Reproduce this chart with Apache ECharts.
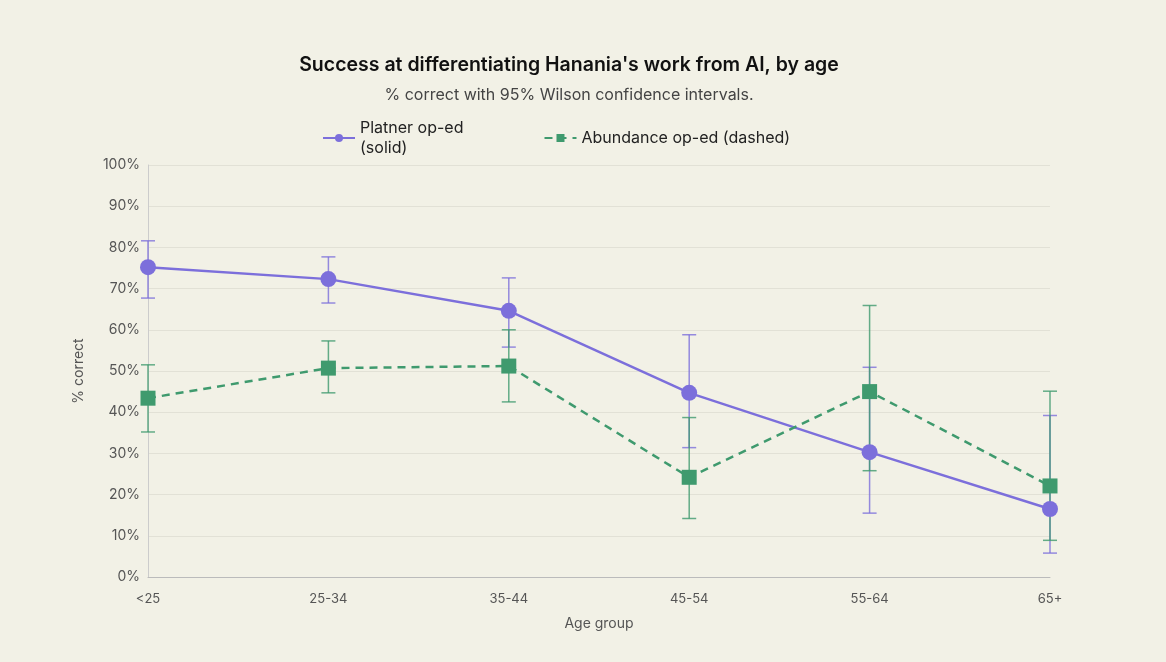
<!DOCTYPE html>
<html><head><meta charset="utf-8">
<script src="https://cdn.jsdelivr.net/npm/echarts@6/dist/echarts.min.js"></script>
<style>html,body{margin:0;padding:0;background:#f2f1e6;}#c{width:1166px;height:662px;}</style>
</head><body><div id="c"></div>
<script>
const categories = ['<25','25-34','35-44','45-54','55-64','65+'];
const platner = [75.2, 72.3, 64.6, 44.7, 30.3, 16.5];
const platnerLo = [67.7, 66.5, 55.8, 31.4, 15.5, 5.8];
const platnerHi = [81.6, 77.7, 72.6, 58.8, 50.9, 39.2];
const abundance = [43.4, 50.7, 51.2, 24.2, 45.0, 22.1];
const abundanceLo = [35.2, 44.7, 42.5, 14.2, 25.8, 8.9];
const abundanceHi = [51.5, 57.3, 60.0, 38.7, 65.9, 45.1];
const purple = '#7c6fdb', green = '#3f9a6e';
function errSeries(lo, hi, color){
  return {
    type:'custom', silent:true, z:1,
    data: categories.map((c,i)=>[i, lo[i], hi[i]]),
    renderItem:function(params, api){
      const x = api.value(0);
      const p1 = api.coord([x, api.value(1)]);
      const p2 = api.coord([x, api.value(2)]);
      const w = 7;
      const st = {stroke: color, lineWidth: 1.5, opacity: 0.8};
      return {type:'group', children:[
        {type:'line', shape:{x1:p1[0],y1:p1[1],x2:p2[0],y2:p2[1]}, style:st},
        {type:'line', shape:{x1:p1[0]-w,y1:p1[1],x2:p1[0]+w,y2:p1[1]}, style:st},
        {type:'line', shape:{x1:p2[0]-w,y1:p2[1],x2:p2[0]+w,y2:p2[1]}, style:st}
      ]};
    }
  };
}
const chart = echarts.init(document.getElementById('c'));
chart.setOption({
  backgroundColor:'#f2f1e6',
  textStyle:{fontFamily:'Inter, "Noto Sans", sans-serif'},
  title:{text:"Success at differentiating Hanania's work from AI, by age",
    subtext:'% correct with 95% Wilson confidence intervals.',
    left:564, textAlign:'center', top:50, itemGap:12,
    textStyle:{fontSize:19.5, fontWeight:600, color:'#111'},
    subtextStyle:{fontSize:16, color:'#444'}},
  legend:{top:113, left:317, itemGap:80, itemWidth:32, itemHeight:10,
    textStyle:{fontSize:16, color:'#222', lineHeight:20, verticalAlign:'top'},
    data:[{name:'Platner op-ed\n(solid)'},{name:'Abundance op-ed (dashed)'}]},
  grid:{left:148, right:116, top:165, bottom:85},
  xAxis:{type:'category', data:categories, boundaryGap:false,
    name:'Age group', nameLocation:'middle', nameGap:40,
    nameTextStyle:{fontSize:14, color:'#555'},
    axisLine:{lineStyle:{color:'#bbb'}}, axisTick:{show:false},
    axisLabel:{fontSize:13, color:'#555', margin:16},
    splitLine:{show:false}},
  yAxis:{type:'value', min:0, max:100, interval:10,
    name:'% correct', nameLocation:'middle', nameGap:62, nameRotate:90,
    nameTextStyle:{fontSize:14, color:'#555'},
    axisLabel:{formatter:'{value}%', fontSize:14, color:'#555'},
    axisLine:{show:true, lineStyle:{color:'#ccc'}}, axisTick:{show:false},
    splitLine:{lineStyle:{color:'#e2e1d6'}}},
  series:[
    errSeries(platnerLo, platnerHi, purple),
    errSeries(abundanceLo, abundanceHi, green),
    {name:'Platner op-ed\n(solid)', type:'line', data:platner, z:3,
      symbol:'circle', symbolSize:16, itemStyle:{color:purple},
      lineStyle:{width:2.5, color:purple}},
    {name:'Abundance op-ed (dashed)', type:'line', data:abundance, z:3,
      symbol:'rect', symbolSize:15, itemStyle:{color:green},
      lineStyle:{width:2.5, type:[8,6], color:green}}
  ]
});
</script></body></html>
